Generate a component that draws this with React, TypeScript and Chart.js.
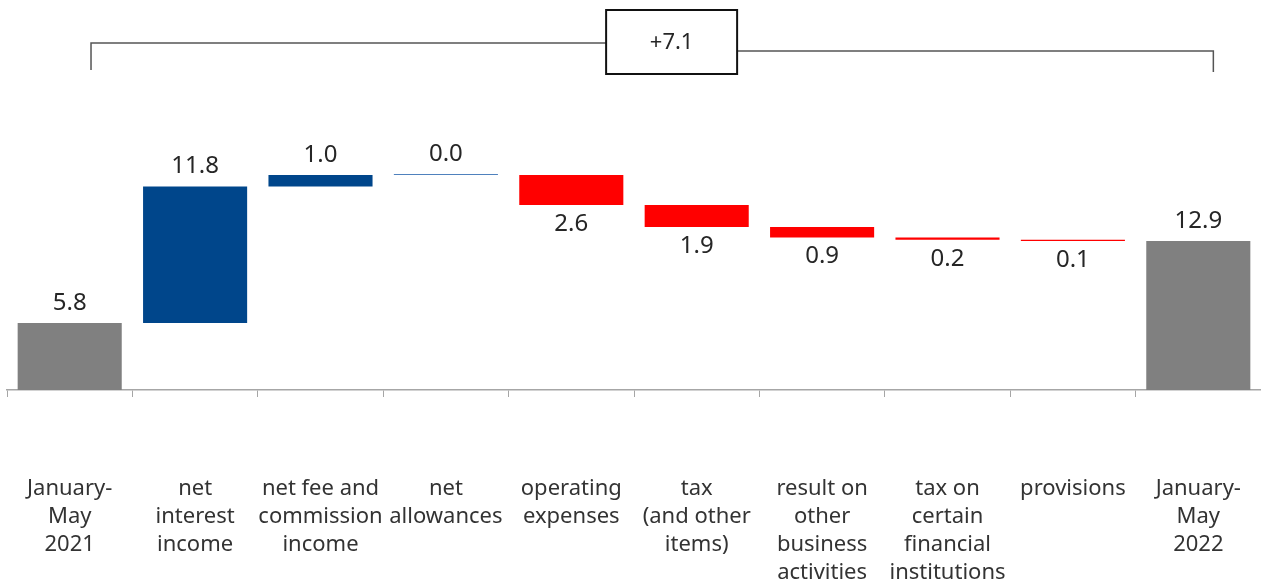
import React, { useEffect, useRef } from "react";
import { Chart, registerables } from "chart.js";

Chart.register(...registerables);

const categories: string[][] = [
  ["January-", "May", "2021"],
  ["net", "interest", "income"],
  ["net fee and", "commission", "income"],
  ["net", "allowances"],
  ["operating", "expenses"],
  ["tax", "(and other", "items)"],
  ["result on", "other", "business", "activities"],
  ["tax on", "certain", "financial", "institutions"],
  ["provisions"],
  ["January-", "May", "2022"],
];

const startValue = 5.8;
const deltas = [11.8, 1.0, 0.0, -2.6, -1.9, -0.9, -0.2, -0.1];
const endValue = 12.9;
const totalChangeLabel = "+7.1";

const GRAY = "#808080";
const BLUE = "#00468b";
const ZERO_BLUE = "#4f81bd";
const RED = "#ff0000";

function buildData() {
  const ranges: [number, number][] = [];
  const colors: string[] = [];
  const labels: string[] = [];
  const above: boolean[] = [];
  ranges.push([0, startValue]);
  colors.push(GRAY);
  labels.push(startValue.toFixed(1));
  above.push(true);
  let run = startValue;
  for (const d of deltas) {
    const next = Math.round((run + d) * 100) / 100;
    ranges.push([Math.min(run, next), Math.max(run, next)]);
    colors.push(d > 0 ? BLUE : d === 0 ? ZERO_BLUE : RED);
    labels.push(Math.abs(d).toFixed(1));
    above.push(d >= 0);
    run = next;
  }
  ranges.push([0, endValue]);
  colors.push(GRAY);
  labels.push(endValue.toFixed(1));
  above.push(true);
  return { ranges, colors, labels, above };
}

export default function App() {
  const ref = useRef<HTMLCanvasElement>(null);
  useEffect(() => {
    document.body.style.margin = "0";
    const { ranges, colors, labels, above } = buildData();
    const valueLabelPlugin = {
      id: "valueLabels",
      afterDatasetsDraw(chart: any) {
        const ctx = chart.ctx;
        const meta = chart.getDatasetMeta(0);
        ctx.save();
        ctx.font = '24px "Noto Sans"';
        ctx.fillStyle = "#262626";
        ctx.textAlign = "center";
        ctx.textBaseline = "middle";
        meta.data.forEach((bar: any, i: number) => {
          const top = Math.min(bar.y, bar.base);
          const bottom = Math.max(bar.y, bar.base);
          const y = above[i] ? top - 20 : bottom + 19;
          ctx.fillText(labels[i], bar.x, y);
        });
        ctx.restore();
      },
    };
    const bracketPlugin = {
      id: "bracket",
      afterDraw(chart: any) {
        const ctx = chart.ctx;
        const x = chart.scales.x;
        const cw = x.getPixelForValue(1) - x.getPixelForValue(0);
        const leftX = x.getPixelForValue(0) + 0.17 * cw;
        const rightX = x.getPixelForValue(categories.length - 1) + 0.12 * cw;
        const boxCx = (x.getPixelForValue(4) + x.getPixelForValue(5)) / 2 + 0.3 * cw;
        const boxW = 131;
        const boxTop = 10;
        const boxH = 64;
        const boxL = boxCx - boxW / 2;
        const boxR = boxCx + boxW / 2;
        ctx.save();
        ctx.strokeStyle = "#555555";
        ctx.lineWidth = 1.5;
        ctx.beginPath();
        ctx.moveTo(leftX, 70);
        ctx.lineTo(leftX, 43);
        ctx.lineTo(boxL, 43);
        ctx.stroke();
        ctx.beginPath();
        ctx.moveTo(boxR, 51);
        ctx.lineTo(rightX, 51);
        ctx.lineTo(rightX, 72);
        ctx.stroke();
        ctx.fillStyle = "#ffffff";
        ctx.fillRect(boxL, boxTop, boxW, boxH);
        ctx.strokeStyle = "#111111";
        ctx.lineWidth = 2;
        ctx.strokeRect(boxL, boxTop, boxW, boxH);
        ctx.font = '22px "Noto Sans"';
        ctx.fillStyle = "#262626";
        ctx.textAlign = "center";
        ctx.textBaseline = "middle";
        ctx.fillText(totalChangeLabel, boxCx, boxTop + boxH / 2 + 1);
        ctx.restore();
      },
    };
    const chart = new Chart(ref.current!, {
      type: "bar",
      data: {
        labels: categories,
        datasets: [
          {
            data: ranges,
            backgroundColor: colors,
            borderWidth: 0,
            categoryPercentage: 1,
            barPercentage: 0.83,
            minBarLength: 1,
          },
        ],
      },
      options: {
        animation: false,
        responsive: false,
        maintainAspectRatio: false,
        layout: { padding: { top: 101, left: 7, right: 0, bottom: 0 } },
        plugins: {
          legend: { display: false },
          tooltip: { enabled: false },
          title: { display: false },
        },
        scales: {
          y: { display: false, min: 0, max: 25 },
          x: {
            afterFit: (scale: any) => {
              scale.height = 195;
              scale.paddingLeft = 0;
              scale.paddingRight = 0;
            },
            grid: {
              display: true,
              drawOnChartArea: false,
              drawTicks: true,
              tickLength: 7,
              color: "#a6a6a6",
              offset: true,
            },
            border: { display: true, color: "#a6a6a6", width: 1.5 },
            ticks: {
              autoSkip: false,
              maxRotation: 0,
              minRotation: 0,
              padding: 78,
              color: "#333333",
              font: { family: '"Noto Sans"', size: 22, lineHeight: 28 / 22 },
            },
          },
        },
      },
      plugins: [valueLabelPlugin, bracketPlugin],
    });
    return () => chart.destroy();
  }, []);
  return (
    <div style={{ width: 1261, height: 585 }}>
      <canvas ref={ref} width={1261} height={585} style={{ display: "block" }} />
    </div>
  );
}
